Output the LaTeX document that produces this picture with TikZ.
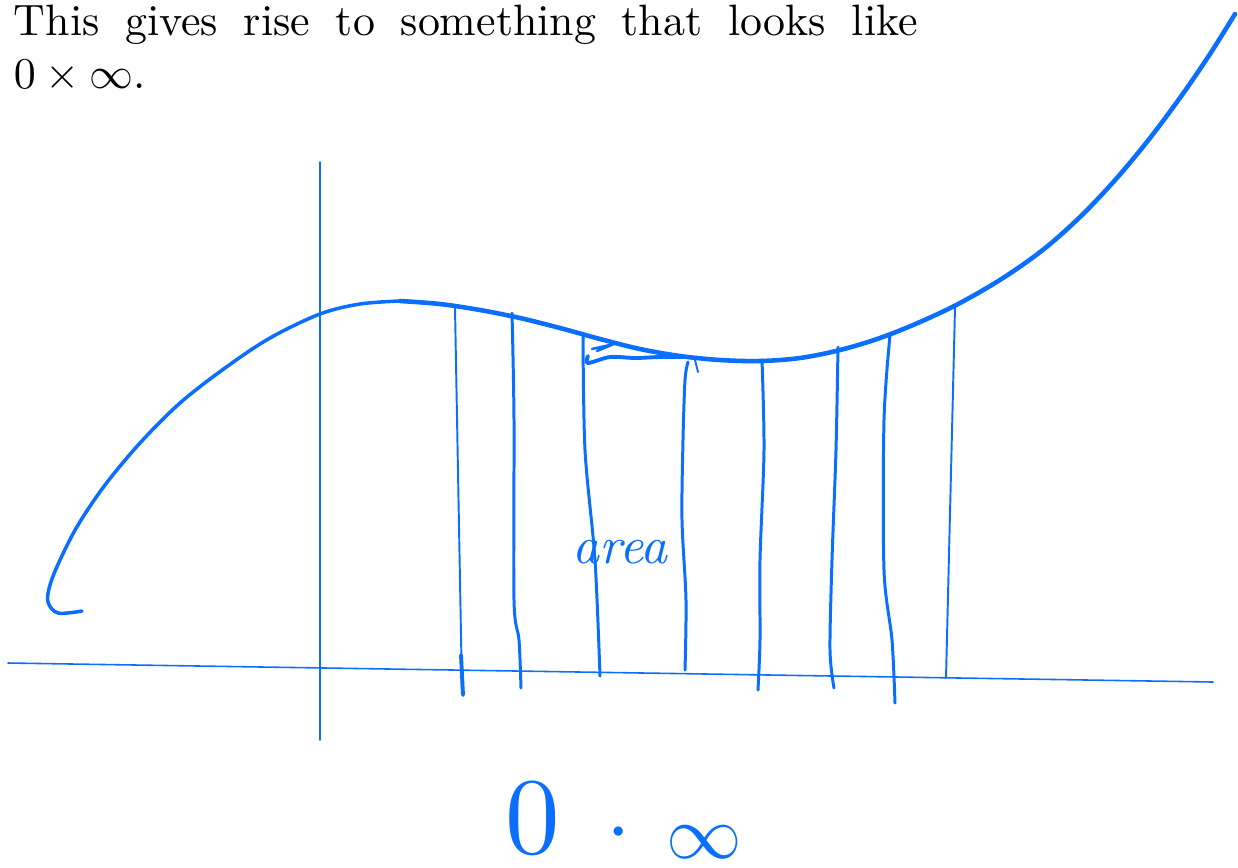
\documentclass[tikz,border=0pt]{standalone}
\usepackage{tikz}
\usetikzlibrary{positioning}
\usepackage{xcolor}
\definecolor{inkblue}{RGB}{10,110,255}
\tikzset{
  skaxis/.style={draw=inkblue, line width=0.9pt, line cap=round},
  skcurve/.style={draw=inkblue, line width=2.6pt, line cap=round, line join=round},
  skstrip/.style={draw=inkblue, line width=1.7pt, line cap=round},
  skthin/.style={draw=inkblue, line width=1.1pt, line cap=round},
  skmark/.style={draw=inkblue, line width=2.4pt, line cap=round},
  skink/.style={text=inkblue, inner sep=0pt, transform shape},
}

\begin{document}
\begin{tikzpicture}[x=0.02cm, y=-0.02cm]
  \useasboundingbox (0,0) rectangle (1238,867);

  \node[anchor=north west, inner sep=0pt, scale=2.5, transform shape,
    text width=7.232cm, align=justify] (intro) at (13,4.5)
    {\fontsize{10}{10.9}\selectfont This gives rise to something that looks like\linebreak $0\times\infty$.};

  % axes
  \draw[skaxis] (8,663) -- (1213,682);
  \draw[skaxis] (320,162) -- (320,740);

  % the graph
  \draw[skcurve, line width=2pt] plot[smooth, tension=0.55] coordinates {
    (82,611) (58,613) (48,602) (50,585) (60,560) (78,525) (105,485)
    (140,443) (180,403) (225,368) (270,338) (320,314) (360,304)
    (400,301)};
  \draw[skcurve] plot[smooth, tension=0.55] coordinates {
    (400,301) (440,304) (480,310) (520,318) (560,328) (600,339)
    (640,349) (680,356) (720,360) (760,361) (800,358) (840,350)
    (880,338) (920,322) (960,303) (1003,278) (1044,249) (1081,216)
    (1116,179) (1150,138) (1182,95) (1210,54) (1235,14)};

  % strips under the graph
  \draw[skthin] (455,308) -- (462,690);
  \draw[skmark, line width=2.2pt] (461,655) -- (462,675) -- (463,695);
  \draw[skstrip] plot[smooth] coordinates {(512,313) (514,420) (514,600) (519,640) (521,688)};
  \draw[skstrip] plot[smooth] coordinates {(583,333) (585,450) (595,560) (600,676)};
  \draw[skstrip] plot[smooth] coordinates {(688,362) (685,380) (683,440) (682,520) (686,600) (685,670)};
  \draw[skthin] (695,360) -- (698,372);
  \draw[skstrip] plot[smooth] coordinates {(762,360) (764,450) (760,560) (760,640) (758,690)};
  \draw[skstrip] plot[smooth] coordinates {(838,347) (836,450) (832,560) (830,650) (834,688)};
  \draw[skstrip] plot[smooth] coordinates {(890,335) (884,420) (884,570) (892,640) (895,703)};
  \draw[skthin] (955,308) -- (946,678);

  % little arrow at the top of a strip
  \draw[skmark, line width=2.2pt] plot[smooth] coordinates {(588,356) (588,363) (610,357) (635,358) (660,357) (690,357)};
  \draw[skthin, line width=1.4pt] (592,349) -- (614,344) -- (597,351);

  \node[skink, scale=3, font=\itshape] (area) at (620,552) {area};

  \node[skink, scale=6.2, anchor=base] (zero) at (533,853) {$0$};
  \node[skink, scale=5, anchor=base] (dot) at (619,853) {$\cdot$};
  \node[skink, scale=4.3, anchor=base] (inf) at (704,858) {$\infty$};
\end{tikzpicture}
\end{document}
